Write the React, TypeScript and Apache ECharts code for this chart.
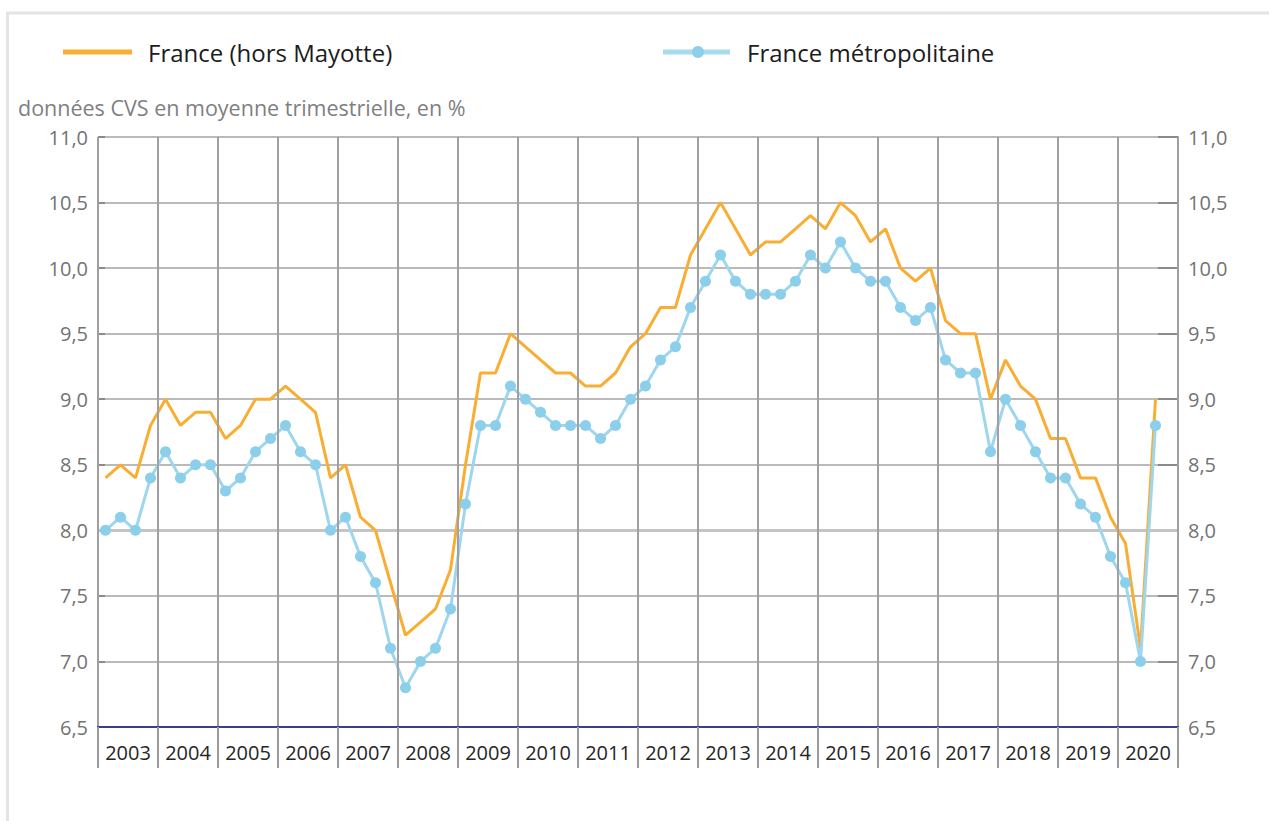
import React, { useEffect, useRef } from "react";
import * as echarts from "echarts";

const years = [
  "2003", "2004", "2005", "2006", "2007", "2008", "2009", "2010", "2011",
  "2012", "2013", "2014", "2015", "2016", "2017", "2018", "2019", "2020",
];
const quarterNames = ["T1", "T2", "T3", "T4"];
const quarters = years.flatMap((y) => quarterNames.map((q) => y + " " + q));

// France (hors Mayotte)
const franceHorsMayotte = [
  8.4, 8.5, 8.4, 8.8,
  9.0, 8.8, 8.9, 8.9,
  8.7, 8.8, 9.0, 9.0,
  9.1, 9.0, 8.9, 8.4,
  8.5, 8.1, 8.0, 7.6,
  7.2, 7.3, 7.4, 7.7,
  8.5, 9.2, 9.2, 9.5,
  9.4, 9.3, 9.2, 9.2,
  9.1, 9.1, 9.2, 9.4,
  9.5, 9.7, 9.7, 10.1,
  10.3, 10.5, 10.3, 10.1,
  10.2, 10.2, 10.3, 10.4,
  10.3, 10.5, 10.4, 10.2,
  10.3, 10.0, 9.9, 10.0,
  9.6, 9.5, 9.5, 9.0,
  9.3, 9.1, 9.0, 8.7,
  8.7, 8.4, 8.4, 8.1,
  7.9, 7.1, 9.0, null,
];

// France métropolitaine
const franceMetro = [
  8.0, 8.1, 8.0, 8.4,
  8.6, 8.4, 8.5, 8.5,
  8.3, 8.4, 8.6, 8.7,
  8.8, 8.6, 8.5, 8.0,
  8.1, 7.8, 7.6, 7.1,
  6.8, 7.0, 7.1, 7.4,
  8.2, 8.8, 8.8, 9.1,
  9.0, 8.9, 8.8, 8.8,
  8.8, 8.7, 8.8, 9.0,
  9.1, 9.3, 9.4, 9.7,
  9.9, 10.1, 9.9, 9.8,
  9.8, 9.8, 9.9, 10.1,
  10.0, 10.2, 10.0, 9.9,
  9.9, 9.7, 9.6, 9.7,
  9.3, 9.2, 9.2, 8.6,
  9.0, 8.8, 8.6, 8.4,
  8.4, 8.2, 8.1, 7.8,
  7.6, 7.0, 8.8, null,
];

const yMin = 6.5;
const yMax = 11;
const yStep = 0.5;
const highlightedLevel = 8.0;

const seriesNames = ["France (hors Mayotte)", "France métropolitaine"];
const subtitle = "données CVS en moyenne trimestrielle, en %";

const ORANGE = "#F9AE33";
const BLUE_LINE = "#9DD6EE";
const BLUE_DOT = "#8CCFEA";
const FONT = "'Open Sans', 'Noto Sans', sans-serif";

const fmt = (v: number) => v.toFixed(1).replace(".", ",");

export default function App() {
  const ref = useRef<HTMLDivElement>(null);

  useEffect(() => {
    document.body.style.margin = "0";
    if (!ref.current) return;
    const chart = echarts.init(ref.current, null, { renderer: "svg" });
    const option: any = {
      animation: false,
      backgroundColor: "#ffffff",
      textStyle: { fontFamily: FONT },
      grid: { left: 98, right: 91, top: 137, bottom: 94 },
      xAxis: [
        {
          type: "category",
          data: quarters,
          boundaryGap: true,
          show: false,
        },
        {
          type: "category",
          data: years,
          position: "bottom",
          boundaryGap: true,
          z: 5,
          axisLine: { show: true, lineStyle: { color: "#3C3C96", width: 2 } },
          axisTick: {
            show: true,
            interval: 0,
            length: 41,
            alignWithLabel: false,
            lineStyle: { color: "#9a9a9a", width: 2 },
          },
          axisLabel: {
            interval: 0,
            margin: 15,
            color: "#262626",
            fontSize: 20,
            fontFamily: FONT,
          },
          splitLine: {
            show: true,
            interval: 0,
            lineStyle: { color: "#a0a0a0", width: 2 },
          },
        },
      ],
      yAxis: [
        {
          type: "value",
          min: yMin,
          max: yMax,
          interval: yStep,
          position: "left",
          axisLine: { show: false },
          axisTick: {
            show: true,
            inside: true,
            length: 7,
            lineStyle: { color: "#8a8a8a", width: 2 },
          },
          axisLabel: {
            margin: 10,
            color: "#737373",
            fontSize: 20,
            fontFamily: FONT,
            formatter: fmt,
          },
          splitLine: { show: true, lineStyle: { color: "#a3a3a3", width: 1.5 } },
        },
        {
          type: "value",
          min: yMin,
          max: yMax,
          interval: yStep,
          position: "right",
          axisLine: { show: true, lineStyle: { color: "#9a9a9a", width: 2 } },
          axisTick: {
            show: true,
            inside: true,
            length: 20,
            lineStyle: { color: "#8a8a8a", width: 2 },
          },
          axisLabel: {
            margin: 10,
            color: "#737373",
            fontSize: 20,
            fontFamily: FONT,
            formatter: fmt,
          },
          splitLine: { show: false },
        },
      ],
      series: [
        {
          name: seriesNames[0],
          type: "line",
          xAxisIndex: 0,
          yAxisIndex: 0,
          data: franceHorsMayotte,
          showSymbol: false,
          symbol: "none",
          lineStyle: { color: ORANGE, width: 3 },
          itemStyle: { color: ORANGE },
          z: 3,
          markLine: {
            silent: true,
            symbol: "none",
            label: { show: false },
            lineStyle: { color: "#c4c4c4", width: 3, type: "solid" },
            data: [{ yAxis: highlightedLevel }],
            z: 1,
          },
        },
        {
          name: seriesNames[1],
          type: "line",
          xAxisIndex: 0,
          yAxisIndex: 0,
          data: franceMetro,
          symbol: "circle",
          symbolSize: 11,
          showSymbol: true,
          showAllSymbol: true,
          lineStyle: { color: BLUE_LINE, width: 3 },
          itemStyle: { color: BLUE_DOT },
          z: 4,
        },
      ],
      graphic: [
        {
          type: "rect",
          silent: true,
          shape: { x: 7.5, y: 13, width: 1400, height: 1000 },
          style: { fill: "none", stroke: "#e4e4e4", lineWidth: 3 },
        },
        {
          type: "line",
          shape: { x1: 63, y1: 52, x2: 132, y2: 52 },
          style: { stroke: ORANGE, lineWidth: 5 },
        },
        {
          type: "text",
          x: 148,
          y: 52,
          style: {
            text: seriesNames[0],
            font: `24px ${FONT}`,
            fill: "#1c1c1c",
            verticalAlign: "middle",
          },
        },
        {
          type: "line",
          shape: { x1: 663, y1: 52, x2: 730, y2: 52 },
          style: { stroke: "#A8DBF0", lineWidth: 5 },
        },
        {
          type: "circle",
          shape: { cx: 698, cy: 52, r: 6 },
          style: { fill: BLUE_DOT },
        },
        {
          type: "text",
          x: 747,
          y: 52,
          style: {
            text: seriesNames[1],
            font: `24px ${FONT}`,
            fill: "#1c1c1c",
            verticalAlign: "middle",
          },
        },
        {
          type: "text",
          x: 18,
          y: 107,
          style: {
            text: subtitle,
            font: `21.5px ${FONT}`,
            fill: "#7f7f7f",
            verticalAlign: "middle",
          },
        },
      ],
    };
    chart.setOption(option);
    return () => chart.dispose();
  }, []);

  return (
    <div
      ref={ref}
      style={{ position: "absolute", left: 0, top: 0, width: 1269, height: 821 }}
    />
  );
}
